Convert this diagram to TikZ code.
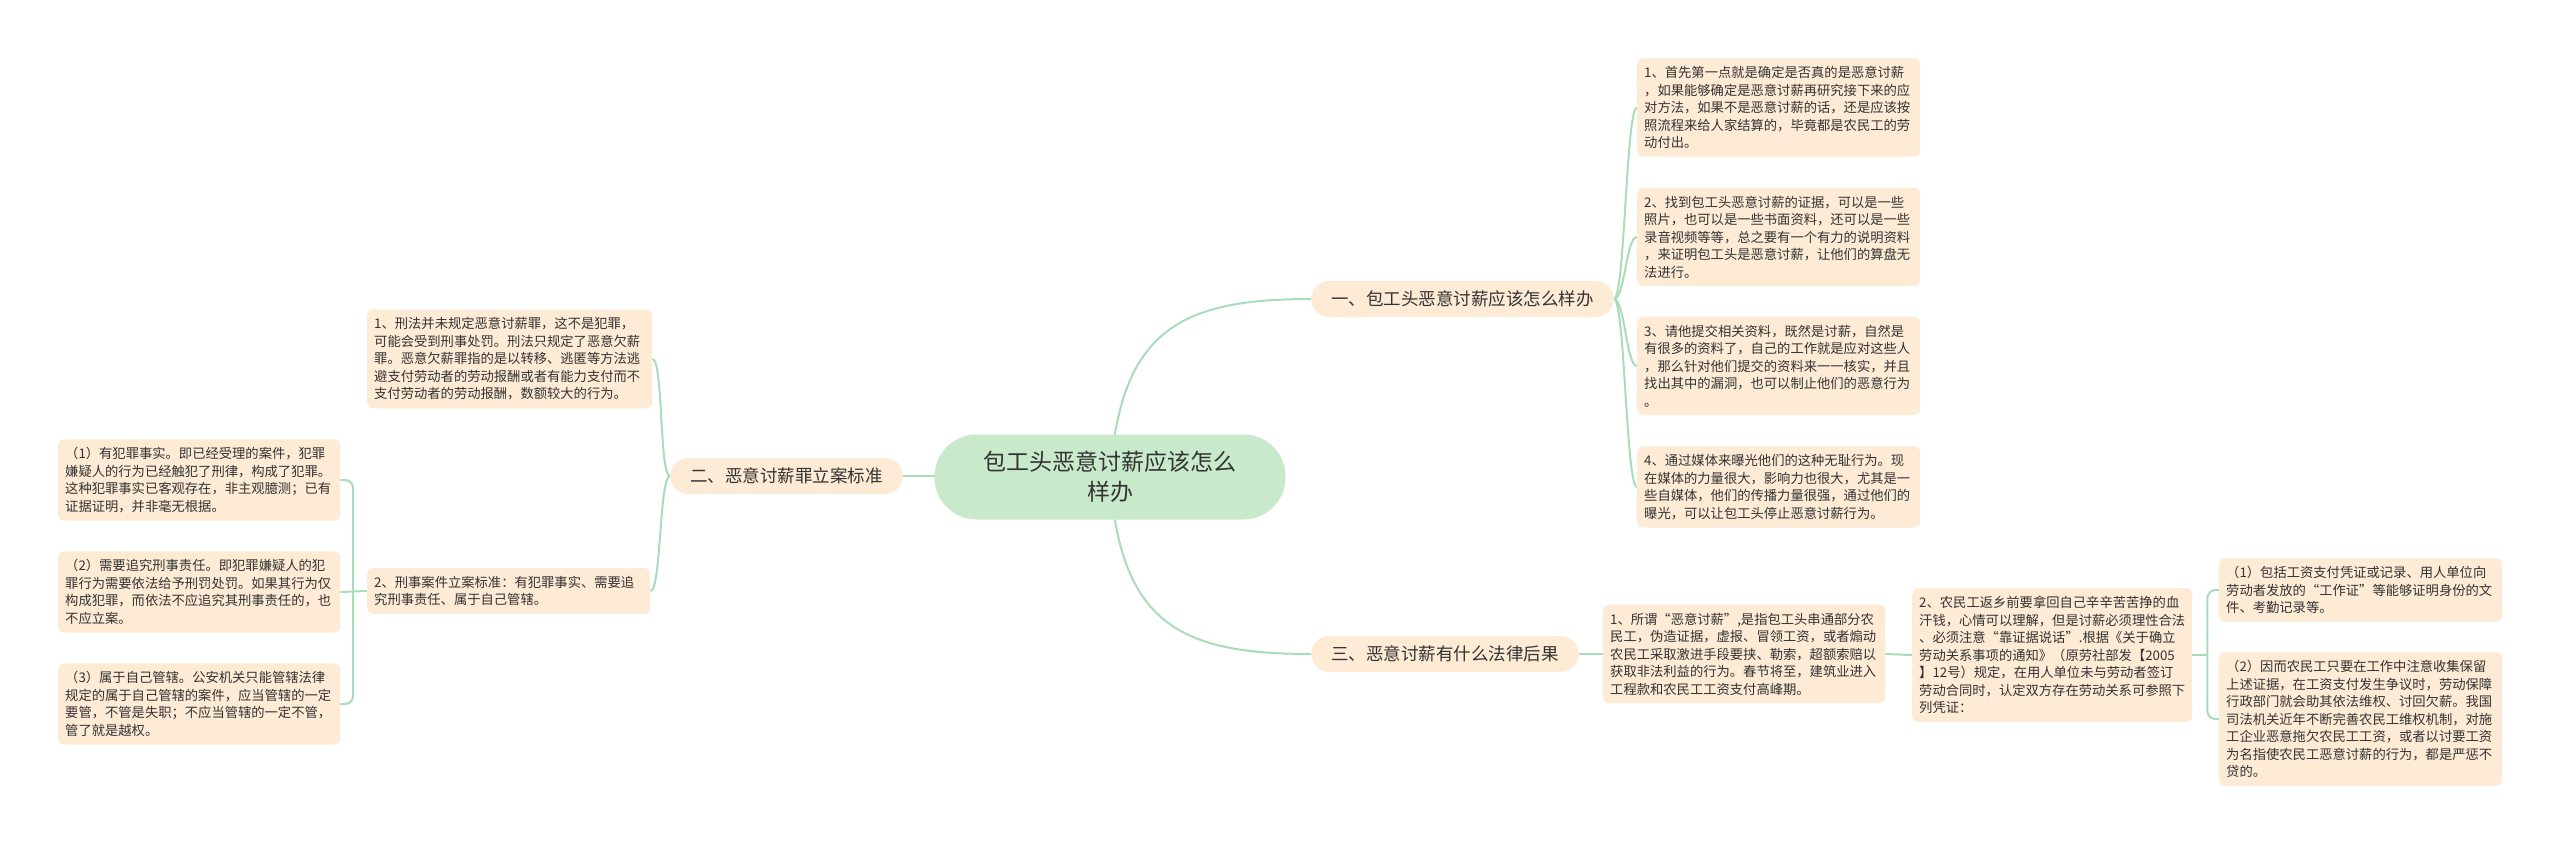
\documentclass[tikz,border=0pt]{standalone}
\usepackage{fontspec}
\newfontfamily\cjk{Noto Sans CJK SC}
\usetikzlibrary{backgrounds,calc}
\definecolor{leafc}{HTML}{FDEBD5}
\definecolor{rootc}{HTML}{C8EACB}
\definecolor{linec}{HTML}{A9DDB9}
\definecolor{txtc}{HTML}{333333}
\begin{document}
\begin{tikzpicture}[x=1pt,y=-1pt,
  leaf/.style={fill=leafc, rounded corners=6pt, inner xsep=7pt, inner ysep=8pt, anchor=west, align=left, text=txtc, font=\cjk\fontsize{13.3}{17.5}\selectfont},
  branch/.style={fill=leafc, rounded corners=18pt, inner xsep=20pt, inner ysep=0pt, minimum height=36pt, text=txtc, font=\cjk\fontsize{17.5}{22}\selectfont},
  root/.style={fill=rootc, rounded corners=42pt, minimum width=351pt, minimum height=85pt, align=center, text=txtc, font=\cjk\fontsize{23}{30}\selectfont},
  conn/.style={draw=linec, line width=2pt}]
\useasboundingbox (0,0) rectangle (2560,845);

% root and branches
\node[root] (c) at (1110,477) {包工头恶意讨薪应该怎么\\样办};
\node[branch, anchor=west] (b1) at (1311,299) {一、包工头恶意讨薪应该怎么样办};
\node[branch, anchor=east] (b2) at (903,476) {二、恶意讨薪罪立案标准};
\node[branch, anchor=west] (b3) at (1311,654) {三、恶意讨薪有什么法律后果};

% branch 1 leaves
\node[leaf, text width=269pt] (r1) at (1637,107.5) {1、首先第一点就是确定是否真的是恶意讨薪\\，如果能够确定是恶意讨薪再研究接下来的应\\对方法，如果不是恶意讨薪的话，还是应该按\\照流程来给人家结算的，毕竟都是农民工的劳\\动付出。};
\node[leaf, text width=269pt] (r2) at (1637,237) {2、找到包工头恶意讨薪的证据，可以是一些\\照片，也可以是一些书面资料，还可以是一些\\录音视频等等，总之要有一个有力的说明资料\\，来证明包工头是恶意讨薪，让他们的算盘无\\法进行。};
\node[leaf, text width=269pt] (r3) at (1637,366) {3、请他提交相关资料，既然是讨薪，自然是\\有很多的资料了，自己的工作就是应对这些人\\，那么针对他们提交的资料来一一核实，并且\\找出其中的漏洞，也可以制止他们的恶意行为\\。};
\node[leaf, text width=269pt] (r4) at (1637,487) {4、通过媒体来曝光他们的这种无耻行为。现\\在媒体的力量很大，影响力也很大，尤其是一\\些自媒体，他们的传播力量很强，通过他们的\\曝光，可以让包工头停止恶意讨薪行为。};

% branch 2 children
\node[leaf, text width=271pt] (la) at (367,359) {1、刑法并未规定恶意讨薪罪，这不是犯罪，\\可能会受到刑事处罚。刑法只规定了恶意欠薪\\罪。恶意欠薪罪指的是以转移、逃匿等方法逃\\避支付劳动者的劳动报酬或者有能力支付而不\\支付劳动者的劳动报酬，数额较大的行为。};
\node[leaf, text width=269pt] (lb) at (367,591) {2、刑事案件立案标准：有犯罪事实、需要追\\究刑事责任、属于自己管辖。};
\node[leaf, text width=268pt] (l1) at (58,480) {（1）有犯罪事实。即已经受理的案件，犯罪\\嫌疑人的行为已经触犯了刑律，构成了犯罪。\\这种犯罪事实已客观存在，非主观臆测；已有\\证据证明，并非毫无根据。};
\node[leaf, text width=268pt] (l2) at (58,592) {（2）需要追究刑事责任。即犯罪嫌疑人的犯\\罪行为需要依法给予刑罚处罚。如果其行为仅\\构成犯罪，而依法不应追究其刑事责任的，也\\不应立案。};
\node[leaf, text width=268pt] (l3) at (58,704) {（3）属于自己管辖。公安机关只能管辖法律\\规定的属于自己管辖的案件，应当管辖的一定\\要管，不管是失职；不应当管辖的一定不管，\\管了就是越权。};

% branch 3 children
\node[leaf, text width=268pt] (m1) at (1603,654) {1、所谓“恶意讨薪”,是指包工头串通部分农\\民工，伪造证据，虚报、冒领工资，或者煽动\\农民工采取激进手段要挟、勒索，超额索赔以\\获取非法利益的行为。春节将至，建筑业进入\\工程款和农民工工资支付高峰期。};
\node[leaf, text width=266pt] (m2) at (1912,655) {2、农民工返乡前要拿回自己辛辛苦苦挣的血\\汗钱，心情可以理解，但是讨薪必须理性合法\\、必须注意“靠证据说话”.根据《关于确立\\劳动关系事项的通知》（原劳社部发【2005\\】12号）规定，在用人单位未与劳动者签订\\劳动合同时，认定双方存在劳动关系可参照下\\列凭证：};
\node[leaf, text width=269pt] (n1) at (2219,590) {（1）包括工资支付凭证或记录、用人单位向\\劳动者发放的“工作证”等能够证明身份的文\\件、考勤记录等。};
\node[leaf, text width=269pt] (n2) at (2219,719) {（2）因而农民工只要在工作中注意收集保留\\上述证据，在工资支付发生争议时，劳动保障\\行政部门就会助其依法维权、讨回欠薪。我国\\司法机关近年不断完善农民工维权机制，对施\\工企业恶意拖欠农民工工资，或者以讨要工资\\为名指使农民工恶意讨薪的行为，都是严惩不\\贷的。};

\begin{pgfonlayer}{background}
\fill[white] (0,0) rectangle (2560,845);
% root to branches
\draw[conn] (c.center) .. controls ($(c.center)+(10,-147)$) and ($(b1.west)+(-131,0)$) .. (b1.west);
\draw[conn] (c.center) .. controls ($(c.center)+(10,147)$) and ($(b3.west)+(-131,0)$) .. (b3.west);
\draw[conn] (c.center) -- (b2.east);
% branch 1
\foreach \n in {r1,r2,r3,r4}{
  \draw[conn] (b1.east) .. controls ($(b1.east)+(11,0)$) and ($(\n.west)+(-11,0)$) .. (\n.west);
}
% branch 2
\foreach \n in {la,lb}{
  \draw[conn] (b2.west) .. controls ($(b2.west)+(-11,0)$) and ($(\n.east)+(11,0)$) .. (\n.east);
}
\coordinate (lk) at ($(lb.west)+(-14,0)$);
\draw[conn, rounded corners=8pt] (l1.east) -| (lk) |- (l3.east);
\draw[conn] (l2.east) -- (lb.west);
% branch 3
\draw[conn] (b3.east) -- (m1.west);
\draw[conn] (m1.east) -- (m2.west);
\coordinate (rk) at ($(m2.east)+(15,0)$);
\draw[conn, rounded corners=8pt] (n1.west) -| (rk) |- (n2.west);
\draw[conn] (m2.east) -- (rk);
\end{pgfonlayer}
\end{tikzpicture}
\end{document}
